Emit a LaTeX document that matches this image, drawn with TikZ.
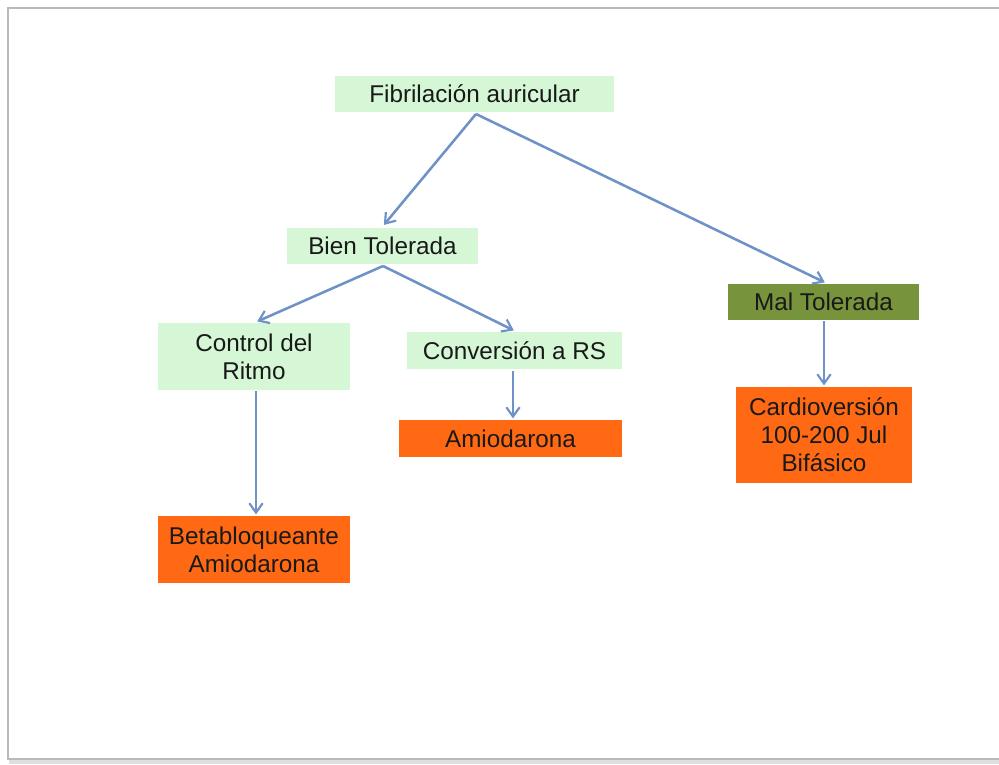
\documentclass[tikz,border=0pt]{standalone}
\usepackage{fontspec}
\setmainfont{Liberation Sans}
\usetikzlibrary{arrows.meta}
\definecolor{lgreen}{RGB}{214,247,214}
\definecolor{olive}{RGB}{119,147,60}
\definecolor{orng}{RGB}{255,105,20}
\definecolor{arr}{RGB}{110,145,200}
\definecolor{txt}{RGB}{25,25,25}
\tikzset{
  px/.style={x=0.75pt,y=-0.75pt},
  box/.style={rectangle,inner sep=0pt,align=center,text=txt,font=\fontsize{18.2}{21}\selectfont},
  conn/.style={draw=arr,line width=1.9pt,-{Straight Barb[length=7pt,width=10pt,line width=1.6pt]},shorten >=1pt}
}
\begin{document}
\begin{tikzpicture}[px]
\useasboundingbox (0,0) rectangle (999,764);
\fill[white] (0,0) rectangle (999,764);
% slide frame with shadow
\fill[gray!25] (9,10) rectangle (1010,764);
\fill[white] (8,8) rectangle (1008,759);
\draw[gray!55,line width=1.2pt] (8,8) rectangle (1008,759);
% nodes
\node[box,fill=lgreen,minimum width=279*0.75pt,minimum height=36*0.75pt] (fa) at (474.5,94) {Fibrilación auricular};
\node[box,fill=lgreen,minimum width=191*0.75pt,minimum height=36*0.75pt] (bt) at (382.5,246) {Bien Tolerada};
\node[box,fill=olive,minimum width=191*0.75pt,minimum height=36*0.75pt] (mt) at (823.5,302) {Mal Tolerada};
\node[box,fill=lgreen,minimum width=192*0.75pt,minimum height=67*0.75pt] (cr) at (254,356.5) {Control del\\Ritmo};
\node[box,fill=lgreen,minimum width=215*0.75pt,minimum height=37*0.75pt] (cv) at (514.5,350.5) {Conversión a RS};
\node[box,fill=orng,minimum width=223*0.75pt,minimum height=37*0.75pt] (am) at (510.5,438.5) {Amiodarona};
\node[box,fill=orng,minimum width=192*0.75pt,minimum height=67*0.75pt] (ba) at (254,549.5) {Betabloqueante\\Amiodarona};
\node[box,fill=orng,minimum width=176*0.75pt,minimum height=96*0.75pt] (cd) at (824,435) {Cardioversión\\100-200 Jul\\Bifásico};
% connectors
\coordinate (fab) at (476,114);
\coordinate (btb) at (383,266);
\draw[conn] (fab) -- (383,226);
\draw[conn] (fab) -- (826,283);
\draw[conn] (btb) -- (256,322);
\draw[conn] (btb) -- (515,331);
\draw[conn] (256,391) -- (ba.north -| 256,0);
\draw[conn] (513,371) -- (am.north -| 513,0);
\draw[conn] (824,321) -- (cd.north -| 824,0);
\end{tikzpicture}
\end{document}
